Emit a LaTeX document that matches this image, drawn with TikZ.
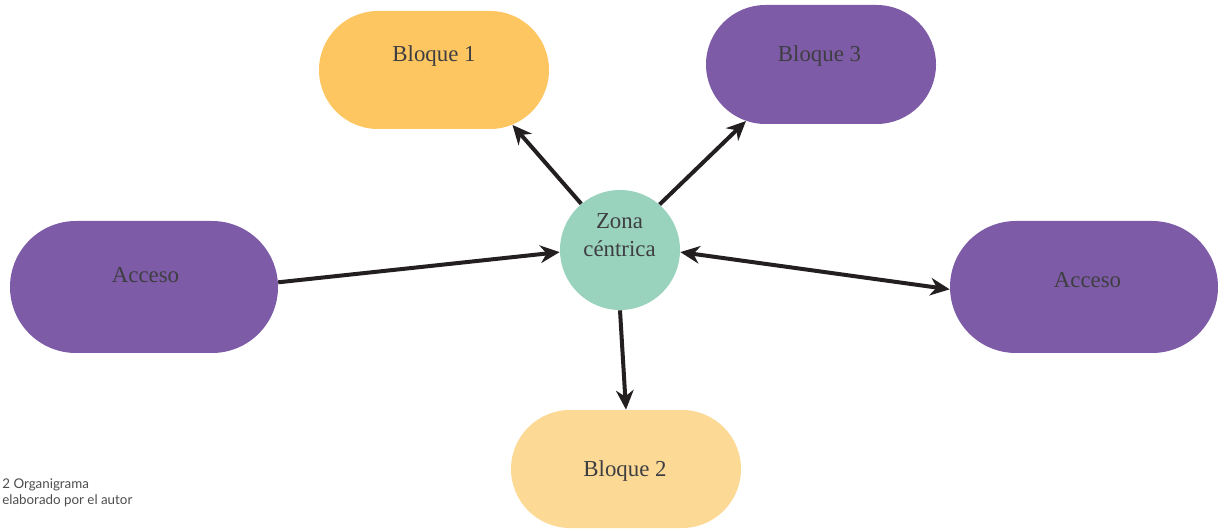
\documentclass[tikz,border=0pt]{standalone}
\usepackage{fontspec}
\setmainfont{Liberation Serif}
\newfontfamily\piefont{Lato}
\usepackage{tikz}
\definecolor{amarillo}{RGB}{254,198,96}
\definecolor{amarilloclaro}{RGB}{252,217,149}
\definecolor{morado}{RGB}{125,91,166}
\definecolor{verdeagua}{RGB}{154,211,189}
\definecolor{flecha}{RGB}{35,31,32}
\definecolor{textogris}{RGB}{62,62,66}
\usetikzlibrary{shapes.misc, arrows.meta}

\begin{document}
\begin{tikzpicture}[bloque/.style={rounded rectangle, minimum width=4.6cm, minimum height=2.36cm, inner sep=0pt},
			acceso/.style={bloque, fill=morado, minimum width=5.36cm, minimum height=2.64cm},
			texto/.style={anchor=base, text=textogris, font=\fontsize{13}{16.4}\selectfont, align=center, inner sep=0pt},
			conector/.style={->, line width=0.8mm, draw=flecha},
			>={Stealth[length=11pt,width=10pt,inset=3.5pt]}]
			% Marco del dibujo
			\useasboundingbox (0,0) rectangle (24.36,10.56);
			% Formas
			\node[bloque, fill=amarillo] (b1) at (8.68,9.16) {};
			\node[bloque, fill=morado, minimum height=2.38cm] (b3) at (16.42,9.27) {};
			\node[bloque, fill=amarilloclaro] (b2) at (12.52,1.18) {};
			\node[acceso] (al) at (2.88,4.82) {};
			\node[acceso] (ar) at (21.68,4.82) {};
			\node[circle, fill=verdeagua, minimum size=2.4cm, inner sep=0pt] (z) at (12.4,5.56) {};
			% Textos (base = ultima linea)
			\node[texto] (tb1) at (8.68,9.32) {Bloque 1};
			\node[texto] (tb3) at (16.39,9.32) {Bloque 3};
			\node[texto] (tb2) at (12.50,1.04) {Bloque 2};
			\node[texto] (tal) at (2.91,4.90) {Acceso};
			\node[texto] (tar) at (21.75,4.80) {Acceso};
			\node[texto] (tz) at (12.39,5.42) {Zona\\céntrica};
			% Flechas
			\draw[conector] (z.130) -- (b1.-35);
			\draw[conector] (z.49) -- (b3.-143);
			\draw[conector] (al.2) -- (z.182);
			\draw[conector, <->] (z.-2) -- (ar.181);
			\draw[conector] (z.south) -- (b2.north);
			% Pie
			\node[anchor=base west, align=left, inner sep=0pt, text=black!70, font=\piefont\fontsize{7.6}{9}\selectfont] (pie) at (0.04,0.48) {2 Organigrama\\elaborado por el autor};
		\end{tikzpicture}
\end{document}
